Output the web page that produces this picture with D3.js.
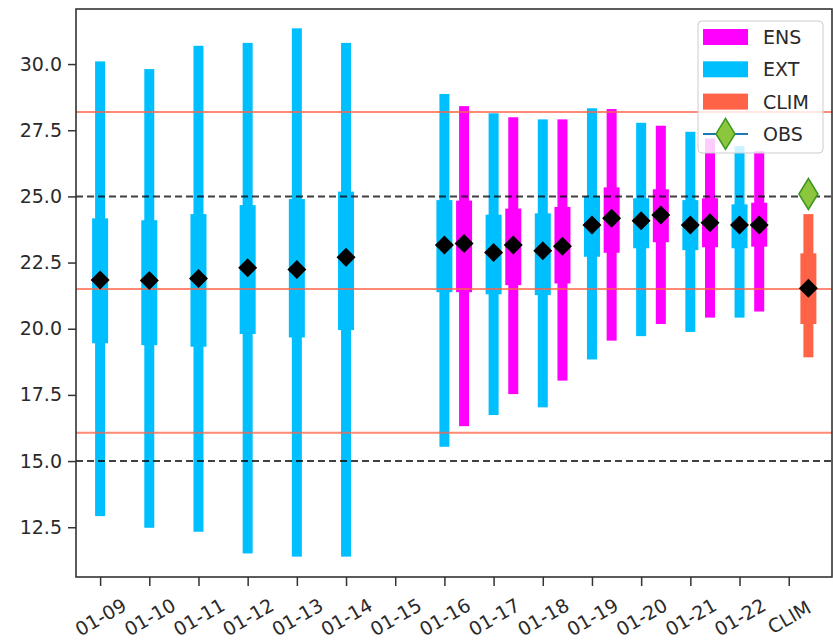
<!DOCTYPE html>
<html>
<head>
<meta charset="utf-8">
<script src="https://cdn.jsdelivr.net/npm/d3@7"></script>
<style>
  html, body { margin: 0; padding: 0; background: #fff; }
  svg { display: block; }
</style>
</head>
<body>
<svg id="chart" width="833" height="640"></svg>
<script>
// Forecast dates plus the climatology slot on the x axis
const tickLabels = ["01-09","01-10","01-11","01-12","01-13","01-14","01-15",
                    "01-16","01-17","01-18","01-19","01-20","01-21","01-22","CLIM"];

// EXT spread per date (null where no run): min, 25th pct, median, 75th pct, max
const extIndex = [0, 1, 2, 3, 4, 5, 7, 8, 9, 10, 11, 12, 13];
const extMin = [12.92, 12.48, 12.33, 11.51, 11.39, 11.39, 15.54, 16.74, 17.03, 18.84, 19.72, 19.88, 20.42];
const extQ1  = [19.45, 19.38, 19.32, 19.80, 19.67, 19.95, 21.38, 21.30, 21.27, 22.72, 23.04, 22.97, 23.04];
const extMed = [21.84, 21.82, 21.90, 22.30, 22.24, 22.70, 23.16, 22.88, 22.95, 23.92, 24.08, 23.92, 23.92];
const extQ3  = [24.17, 24.10, 24.33, 24.67, 24.90, 25.18, 24.86, 24.31, 24.36, 25.01, 24.93, 24.86, 24.70];
const extMax = [30.10, 29.81, 30.69, 30.80, 31.35, 30.80, 28.87, 28.14, 27.91, 28.33, 27.78, 27.44, 26.90];

// ENS spread, available from 01-16 onward
const ensIndex = [7, 8, 9, 10, 11, 12, 13];
const ensMin = [16.32, 17.53, 18.04, 19.55, 20.18, 20.42, 20.65];
const ensQ1  = [21.38, 21.65, 21.71, 22.87, 23.27, 23.08, 23.10];
const ensMed = [23.22, 23.16, 23.12, 24.17, 24.30, 24.00, 23.92];
const ensQ3  = [24.84, 24.54, 24.60, 25.34, 25.27, 24.93, 24.76];
const ensMax = [28.41, 27.99, 27.91, 28.30, 27.67, 27.19, 26.71];

// Climatology spread and the observed value
const climIndex = 14;
const climStats = [18.92, 20.18, 21.53, 22.85, 24.33];
const obsValue = 25.09;

// Reference lines
const climLines = [16.07, 21.50, 28.19];
const thresholdLines = [15, 25];
const yTicks = [12.5, 15.0, 17.5, 20.0, 22.5, 25.0, 27.5, 30.0];

const COLORS = { ENS: "#ff00ff", EXT: "#00bfff", CLIM: "#ff6347", OBS_LINE: "#1f77b4" };
const FONT = "'DejaVu Sans', sans-serif";

const svg = d3.select("#chart");
const plot = { left: 76, right: 832, top: 9, bottom: 577 };

const x = d3.scaleLinear().domain([-0.49, 14.88]).range([plot.left, plot.right]);
const y = d3.scaleLinear().domain([10.62, 32.08]).range([plot.bottom, plot.top]);

const ensOffset = 0.4;
const thinW = 10, thickW = 16;

function boxRecords(idx, mn, q1, md, q3, mx, offset) {
  return idx.map((i, k) => ({ pos: i + offset, min: mn[k], q1: q1[k], med: md[k], q3: q3[k], max: mx[k] }));
}
const extData = boxRecords(extIndex, extMin, extQ1, extMed, extQ3, extMax, 0);
const ensData = boxRecords(ensIndex, ensMin, ensQ1, ensMed, ensQ3, ensMax, ensOffset);
const climData = [{ pos: climIndex + ensOffset, min: climStats[0], q1: climStats[1],
                    med: climStats[2], q3: climStats[3], max: climStats[4] }];

const gBars = svg.append("g");
function drawSpread(data, color) {
  const g = gBars.append("g").attr("fill", color);
  g.selectAll("rect.whisk").data(data).join("rect")
    .attr("class", "whisk")
    .attr("x", d => x(d.pos) - thinW / 2)
    .attr("width", thinW)
    .attr("y", d => y(d.max))
    .attr("height", d => y(d.min) - y(d.max));
  g.selectAll("rect.iqr").data(data).join("rect")
    .attr("class", "iqr")
    .attr("x", d => x(d.pos) - thickW / 2)
    .attr("width", thickW)
    .attr("y", d => y(d.q3))
    .attr("height", d => y(d.q1) - y(d.q3));
}
drawSpread(extData, COLORS.EXT);
drawSpread(ensData, COLORS.ENS);
drawSpread(climData, COLORS.CLIM);

// Horizontal reference lines
const gLines = svg.append("g");
gLines.selectAll("line.clim").data(climLines).join("line")
  .attr("x1", plot.left).attr("x2", plot.right)
  .attr("y1", d => y(d)).attr("y2", d => y(d))
  .attr("stroke", COLORS.CLIM).attr("stroke-opacity", 0.75).attr("stroke-width", 2);
gLines.selectAll("line.thr").data(thresholdLines).join("line")
  .attr("x1", plot.left).attr("x2", plot.right)
  .attr("y1", d => y(d)).attr("y2", d => y(d))
  .attr("stroke", "#000").attr("stroke-opacity", 0.75).attr("stroke-width", 2)
  .attr("stroke-dasharray", "7,4");

// Median markers
const diamond = (cx, cy, hw, hh) => `M${cx},${cy - hh}L${cx + hw},${cy}L${cx},${cy + hh}L${cx - hw},${cy}Z`;
const medians = [...extData, ...ensData, ...climData];
svg.append("g").selectAll("path").data(medians).join("path")
  .attr("d", d => diamond(x(d.pos), y(d.med), 9.5, 9.5))
  .attr("fill", "#000");

// Observation marker
svg.append("path")
  .attr("d", diamond(x(climIndex + ensOffset), y(obsValue), 9.5, 15.5))
  .attr("fill", "#8cc63f").attr("stroke", "#3a961f").attr("stroke-width", 1.5);

// Axes
const yAxis = d3.axisLeft(y).tickValues(yTicks).tickFormat(d3.format(".1f")).tickSize(8).tickPadding(6);
const gy = svg.append("g").attr("transform", `translate(${plot.left},0)`).call(yAxis);
gy.select(".domain").remove();
gy.selectAll(".tick line").attr("stroke", "#333").attr("stroke-width", 1.5);
gy.selectAll(".tick text").attr("font-family", FONT).attr("font-size", 19).attr("fill", "#2a2a2a");

const xAxis = d3.axisBottom(x).tickValues(d3.range(tickLabels.length))
  .tickFormat(i => tickLabels[i]).tickSize(9);
const gx = svg.append("g").attr("transform", `translate(0,${plot.bottom})`).call(xAxis);
gx.select(".domain").remove();
gx.selectAll(".tick line").attr("stroke", "#333").attr("stroke-width", 1.5);
gx.selectAll(".tick text")
  .attr("font-family", FONT).attr("font-size", 19).attr("fill", "#2a2a2a")
  .attr("y", 0).attr("dy", null)
  .attr("text-anchor", "middle").attr("dominant-baseline", "central")
  .attr("transform", "translate(0,40) rotate(-30)");

// Frame
svg.append("rect")
  .attr("x", plot.left).attr("y", plot.top)
  .attr("width", plot.right - plot.left).attr("height", plot.bottom - plot.top)
  .attr("fill", "none").attr("stroke", "#333").attr("stroke-width", 1.6);

// Legend
const legendItems = [
  { label: "ENS", type: "patch", color: COLORS.ENS },
  { label: "EXT", type: "patch", color: COLORS.EXT },
  { label: "CLIM", type: "patch", color: COLORS.CLIM },
  { label: "OBS", type: "marker" }
];
const lg = svg.append("g").attr("transform", "translate(698,21)");
lg.append("rect").attr("width", 125).attr("height", 132).attr("rx", 4)
  .attr("fill", "#fff").attr("fill-opacity", 0.8)
  .attr("stroke", "#cccccc").attr("stroke-width", 1);
legendItems.forEach((it, i) => {
  const cy = 16 + i * 32.3;
  const row = lg.append("g");
  if (it.type === "patch") {
    row.append("rect").attr("x", 5).attr("y", cy - 8).attr("width", 45).attr("height", 16).attr("fill", it.color);
  } else {
    row.append("line").attr("x1", 5).attr("x2", 50).attr("y1", cy).attr("y2", cy)
      .attr("stroke", COLORS.OBS_LINE).attr("stroke-width", 2);
    row.append("path").attr("d", diamond(27.5, cy, 9.5, 15.5))
      .attr("fill", "#8cc63f").attr("stroke", "#3a961f").attr("stroke-width", 1.5);
  }
  row.append("text").attr("x", 65).attr("y", cy).attr("dominant-baseline", "central")
    .attr("font-family", FONT).attr("font-size", 19).attr("fill", "#2a2a2a").text(it.label);
});
</script>
</body>
</html>
